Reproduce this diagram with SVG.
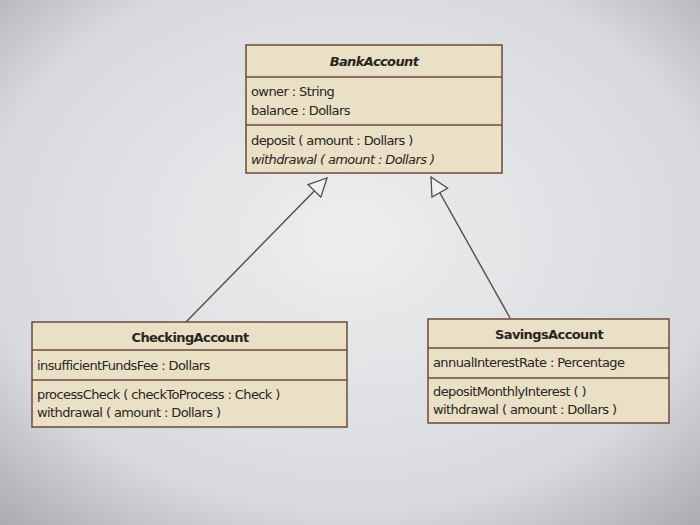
<svg xmlns="http://www.w3.org/2000/svg" width="700" height="525" viewBox="0 0 700 525">
<defs>
<radialGradient id="bg" cx="0.5" cy="0.45" r="0.75">
<stop offset="0" stop-color="#eceef0"/><stop offset="0.7" stop-color="#d8d9dc"/><stop offset="1" stop-color="#a9aaad"/>
</radialGradient>
<marker id="tri" viewBox="0 0 20 20" refX="19" refY="10" markerWidth="20" markerHeight="20" markerUnits="userSpaceOnUse" orient="auto">
<path d="M1,1 L19,10 L1,19 Z" fill="#f2f0ec" stroke="#5a4a44" stroke-width="1.3"/>
</marker>
<style>
.box{fill:#e9e0c6;stroke:#6b4a3e;stroke-width:1.5}
.sep{stroke:#6b4a3e;stroke-width:1.3}
text{font-family:Tahoma,"DejaVu Sans",sans-serif;font-size:13px;fill:#2a2422;letter-spacing:-0.6px}
.t{font-weight:bold;text-anchor:middle}
.i{font-style:italic}
.c{stroke:#5a4a44;stroke-width:1.4;fill:none}
</style>
</defs>
<rect width="700" height="525" fill="url(#bg)"/>
<g id="connectors">
<line class="c" x1="186" y1="322" x2="327" y2="178" marker-end="url(#tri)"/>
<line class="c" x1="510" y1="318" x2="431" y2="177" marker-end="url(#tri)"/>
</g>
<g id="BankAccount">
<rect class="box" x="246" y="45" width="256" height="128"/>
<line class="sep" x1="246" y1="77" x2="502" y2="77"/>
<line class="sep" x1="246" y1="125" x2="502" y2="125"/>
<text class="t i" x="374" y="66">BankAccount</text>
<text x="251" y="96">owner : String</text>
<text x="251" y="115">balance : Dollars</text>
<text x="251" y="145">deposit ( amount : Dollars )</text>
<text class="i" x="251" y="164">withdrawal ( amount : Dollars )</text>
</g>
<g id="CheckingAccount">
<rect class="box" x="32" y="322" width="315" height="105"/>
<line class="sep" x1="32" y1="350" x2="347" y2="350"/>
<line class="sep" x1="32" y1="380" x2="347" y2="380"/>
<text class="t" x="190" y="342">CheckingAccount</text>
<text x="37" y="370">insufficientFundsFee : Dollars</text>
<text x="37" y="399">processCheck ( checkToProcess : Check )</text>
<text x="37" y="417">withdrawal ( amount : Dollars )</text>
</g>
<g id="SavingsAccount">
<rect class="box" x="428" y="319" width="241" height="104"/>
<line class="sep" x1="428" y1="348" x2="669" y2="348"/>
<line class="sep" x1="428" y1="378" x2="669" y2="378"/>
<text class="t" x="549" y="339">SavingsAccount</text>
<text x="433" y="367">annualInterestRate : Percentage</text>
<text x="433" y="396">depositMonthlyInterest ( )</text>
<text x="433" y="414">withdrawal ( amount : Dollars )</text>
</g>
</svg>
